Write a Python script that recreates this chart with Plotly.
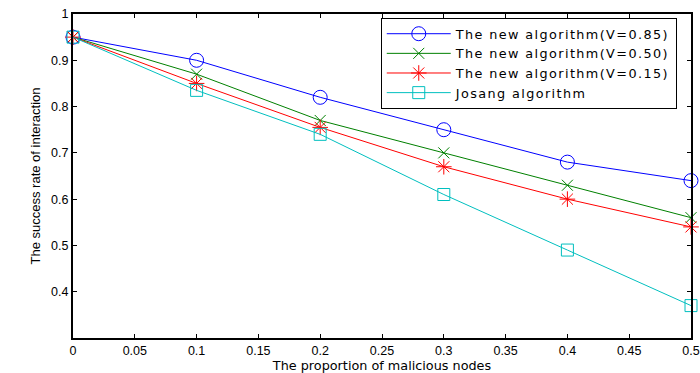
import plotly.graph_objects as go

x_vals = [0, 0.1, 0.2, 0.3, 0.4, 0.5]
v085 = [0.95, 0.90, 0.82, 0.75, 0.68, 0.64]
v050 = [0.95, 0.87, 0.77, 0.70, 0.63, 0.56]
v015 = [0.95, 0.85, 0.755, 0.67, 0.60, 0.54]
josang = [0.95, 0.835, 0.74, 0.61, 0.49, 0.37]

names = ["The new algorithm(V=0.85)", "The new algorithm(V=0.50)",
         "The new algorithm(V=0.15)", "Josang algorithm"]
colors = ["#0000ff", "#008000", "#ff0000", "#00bfbf"]
symbols = ["circle-open", "x-thin-open", "asterisk-open", "square-open"]
sizes = [14, 11, 13, 12]

x_ticks = [0, 0.05, 0.1, 0.15, 0.2, 0.25, 0.3, 0.35, 0.4, 0.45, 0.5]
x_tick_text = ["0", "0.05", "0.1", "0.15", "0.2", "0.25", "0.3", "0.35", "0.4", "0.45", "0.5"]
y_ticks = [0.4, 0.5, 0.6, 0.7, 0.8, 0.9, 1.0]
y_tick_text = ["0.4", "0.5", "0.6", "0.7", "0.8", "0.9", "1"]

fig = go.Figure()
for ys, n, c, s, sz in zip([v085, v050, v015, josang], names, colors, symbols, sizes):
    fig.add_trace(go.Scatter(
        x=x_vals, y=ys, mode="lines+markers",
        name='<span style="letter-spacing:1.4px">' + n + '</span>',
        line=dict(color=c, width=1),
        marker=dict(symbol=s, size=sz, color=c, line=dict(color=c, width=1)),
        cliponaxis=False,
    ))

axis_common = dict(
    showline=True, linecolor="black", linewidth=2, mirror="ticks",
    ticks="inside", ticklen=4, tickcolor="black", tickwidth=1,
    showgrid=False, zeroline=False, automargin=False,
    tickfont=dict(family="Liberation Sans, Arial", size=12.5, color="black"),
)
fig.update_xaxes(range=[0, 0.5], tickvals=x_ticks, ticktext=x_tick_text,
                 ticklabeloverflow="allow",
                 title=dict(text="The proportion of malicious nodes",
                            font=dict(family="DejaVu Sans", size=12.8, color="black"),
                            standoff=0),
                 **axis_common)
fig.update_yaxes(range=[0.3, 1.0], tickvals=y_ticks, ticktext=y_tick_text,
                 title=dict(text="The success rate of interaction",
                            font=dict(family="Liberation Sans, Arial", size=13, color="black"),
                            standoff=8),
                 **axis_common)

fig.update_layout(
    width=700, height=373,
    margin=dict(l=73, r=9, t=14, b=35),
    paper_bgcolor="white", plot_bgcolor="white",
    showlegend=True,
    legend=dict(x=0.498, y=0.988, xanchor="left", yanchor="top",
                bordercolor="black", borderwidth=1, bgcolor="white",
                font=dict(family="DejaVu Sans", size=12.8, color="black"),
                itemwidth=64, tracegroupgap=0),
)

fig.write_html("out.html", config={"displayModeBar": False},
               post_script="document.body.style.margin='0';document.body.style.overflow='hidden';")
